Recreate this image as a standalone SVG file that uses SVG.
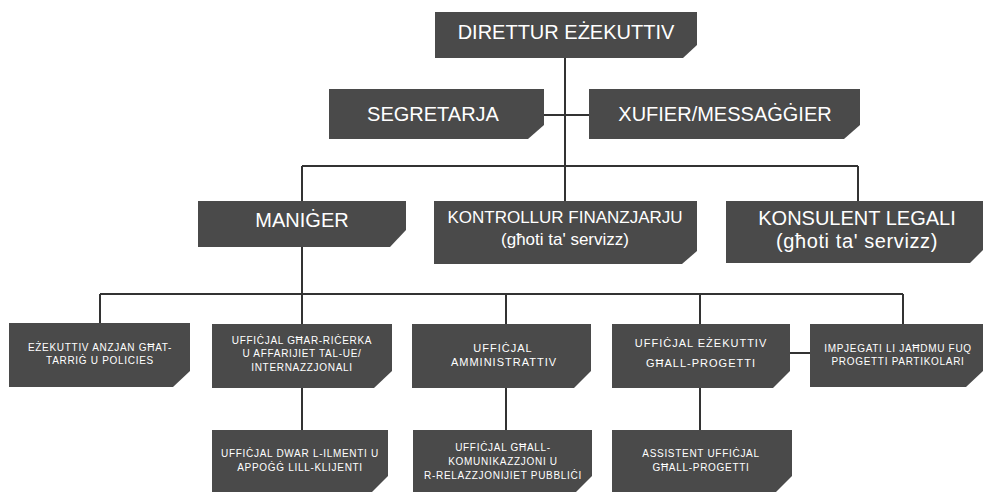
<svg xmlns="http://www.w3.org/2000/svg" width="983" height="493" viewBox="0 0 983 493">
<style>
.box{fill:#4a4a4a}
.ln{stroke:#333;stroke-width:2;fill:none}
.t{fill:#fff;font-family:"Liberation Sans",Arial,sans-serif;text-anchor:middle}
.l{font-size:20px}
.m{font-size:17px}
.s{font-size:10px;letter-spacing:0.7px}
.s2{font-size:11px;letter-spacing:1px}
</style>
<rect width="983" height="493" fill="#fff"/>
<g id="connectors" class="ln">
<path d="M565 58V201M544 115H589M302 166H858M302 166V201M858 166V201"/>
<path d="M302 247V324M100 294H903M100 294V323M506 294V324M700 294V324M903 294V324"/>
<path d="M302 388V430M506 388V430M700 388V430M790 353H810"/>
</g>
<g id="n-direttur"><path class="box" d="M435 12H697V45L683 58H435Z"/><text class="t l" x="566" y="39">DIRETTUR EŻEKUTTIV</text></g>
<g id="n-segretarja"><path class="box" d="M329 89H544V125L528 139H329Z"/><text class="t l" x="433" y="121">SEGRETARJA</text></g>
<g id="n-xufier"><path class="box" d="M589 89H860V125L844 139H589Z"/><text class="t l" x="725" y="121">XUFIER/MESSAĠĠIER</text></g>
<g id="n-maniger"><path class="box" d="M198 201H406V230L390 247H198Z"/><text class="t l" x="302" y="227">MANIĠER</text></g>
<g id="n-kontrollur"><path class="box" d="M434 201H697V251L682 264H434Z"/><text class="t m" x="565" y="223">KONTROLLUR FINANZJARJU</text><text class="t m" x="565" y="245">(għoti ta' servizz)</text></g>
<g id="n-konsulent"><path class="box" d="M726 201H983V250L970 263H726Z"/><text class="t l" x="857" y="225">KONSULENT LEGALI</text><text class="t l" x="857" y="248" style="letter-spacing:0.6px">(għoti ta' servizz)</text></g>
<g id="n-anzjan"><path class="box" d="M9 323H190V371L173 387H9Z"/><text class="t s" x="100" y="351">EŻEKUTTIV ANZJAN GĦAT-</text><text class="t s" x="100" y="364">TARRIĠ U POLICIES</text></g>
<g id="n-ricerka"><path class="box" d="M212 324H392V371L374 388H212Z"/><text class="t s" x="302" y="344">UFFIĊJAL GĦAR-RIĊERKA</text><text class="t s" x="302" y="357">U AFFARIJIET TAL-UE/</text><text class="t s" x="302" y="371">INTERNAZZJONALI</text></g>
<g id="n-amministrattiv"><path class="box" d="M412 324H591V371L574 388H412Z"/><text class="t s2" x="503" y="352">UFFIĊJAL</text><text class="t s2" x="504" y="366">AMMINISTRATTIV</text></g>
<g id="n-progetti"><path class="box" d="M612 324H790V371L773 388H612Z"/><text class="t s2" x="701" y="347">UFFIĊJAL EŻEKUTTIV</text><text class="t s2" x="701" y="367">GĦALL-PROGETTI</text></g>
<g id="n-impjegati"><path class="box" d="M810 324H983V371L966 387H810Z"/><text class="t s" x="898" y="352">IMPJEGATI LI JAĦDMU FUQ</text><text class="t s" x="898" y="365">PROGETTI PARTIKOLARI</text></g>
<g id="n-ilmenti"><path class="box" d="M212 430H388V476L372 492H212Z"/><text class="t s" x="300" y="457">UFFIĊJAL DWAR L-ILMENTI U</text><text class="t s" x="300" y="471">APPOĠĠ LILL-KLIJENTI</text></g>
<g id="n-komunikazzjoni"><path class="box" d="M413 430H592V476L576 492H413Z"/><text class="t s" x="503" y="451">UFFIĊJAL GĦALL-</text><text class="t s" x="503" y="465">KOMUNIKAZZJONI U</text><text class="t s" x="503" y="479">R-RELAZZJONIJIET PUBBLIĊI</text></g>
<g id="n-assistent"><path class="box" d="M612 430H792V476L776 492H612Z"/><text class="t s" x="701" y="457">ASSISTENT UFFIĊJAL</text><text class="t s" x="701" y="471">GĦALL-PROGETTI</text></g>
</svg>
